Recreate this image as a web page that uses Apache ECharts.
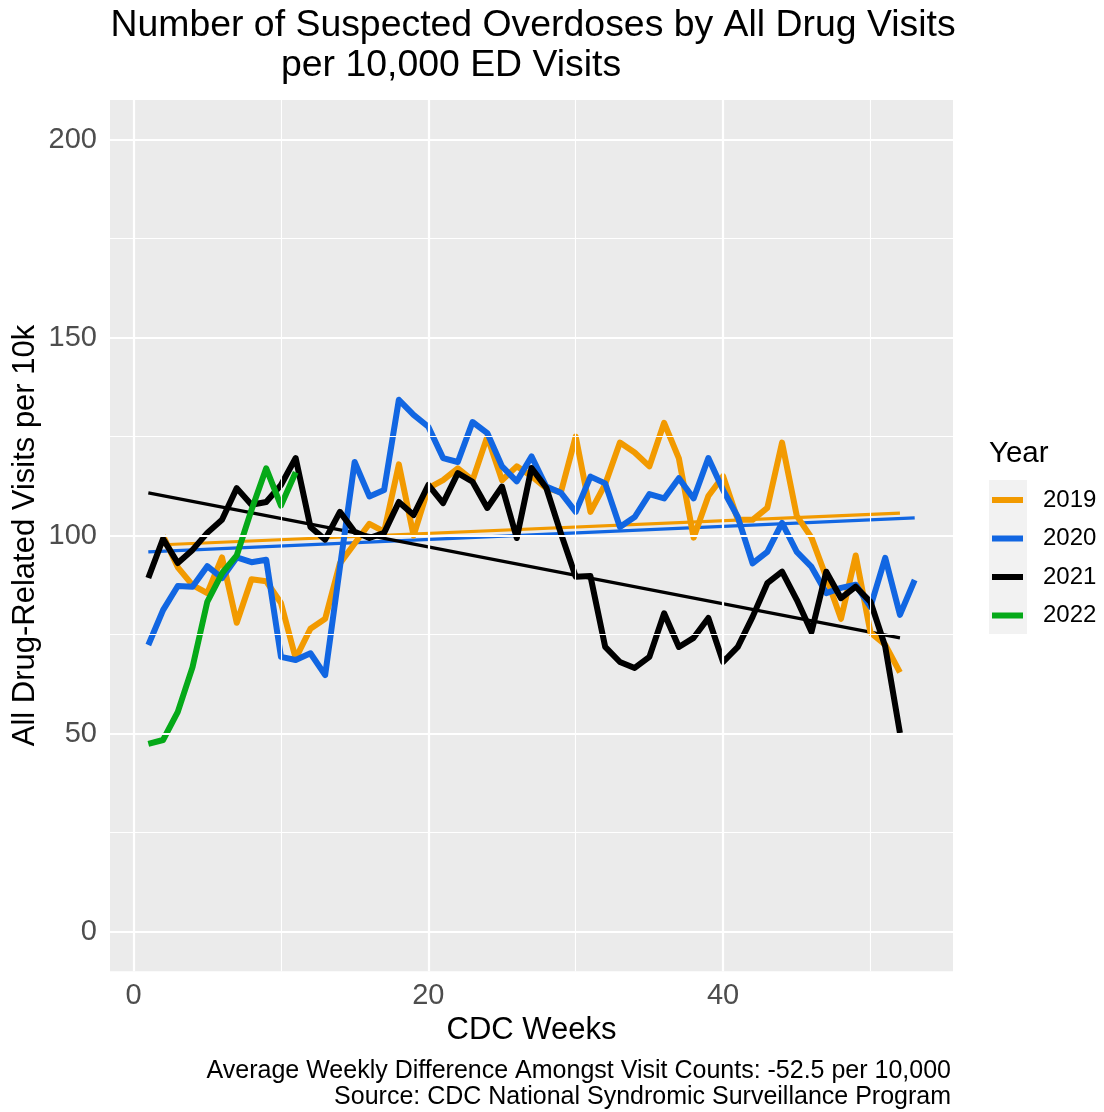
<!DOCTYPE html>
<html>
<head>
<meta charset="utf-8">
<title>Suspected Overdoses per 10,000 ED Visits</title>
<script src="https://cdn.jsdelivr.net/npm/echarts@6/dist/echarts.min.js"></script>
<style>
  html, body { margin: 0; padding: 0; background: #ffffff; }
  #chart { width: 1104px; height: 1112px; }
</style>
</head>
<body>
<div id="chart"></div>
<script>
// Weekly all-drug suspected overdose visits per 10,000 ED visits, by CDC week
const years = ['2019', '2020', '2021', '2022'];
const firstWeek = [2, 1, 1, 1];

const visits2019 = [100, 92, 87.5, 85.5, 94.5, 78, 89, 88.5, 83, 69, 76.5, 79, 93, 98, 103, 101,
  118, 100, 112, 114, 117, 114, 125, 114, 117.5, 115, 112, 111, 125, 106, 113, 123.5, 121, 117.5,
  128.5, 119.5, 99.5, 110, 115, 104, 104, 107, 123.5, 105, 99.5, 89.5, 79, 95, 75.5, 72.5, 65.5];
const visits2020 = [72.4, 81.2, 87.3, 87.1, 92.3, 89.3, 94.5, 93.3, 93.9, 69.4, 68.6, 70.3, 64.8,
  92, 118.6, 109.9, 111.5, 134.3, 130.5, 127.5, 119.6, 118.6, 128.7, 125.9, 117.5, 113.7, 120,
  112.4, 110.8, 106, 114.9, 113.2, 102.2, 104.7, 110.5, 109.4, 114.5, 109.4, 119.6, 111.5, 104.7,
  93, 95.9, 103.2, 95.9, 92.1, 85.5, 86.8, 87.6, 82, 94.4, 80, 88.8];
const visits2021 = [89.3, 99.2, 93.1, 96.4, 100.7, 104, 112, 107.8, 108.5, 112.8, 119.6, 102.2, 99,
  106, 101, 99.4, 100.7, 108.5, 105.2, 112.8, 108.2, 115.8, 113.6, 107, 112.4, 99.4, 117.1, 112.1,
  100.5, 89.6, 89.8, 71.9, 68.1, 66.6, 69.4, 80.4, 71.9, 74.2, 79.2, 68.1, 71.9, 79.5, 88, 90.9,
  83.8, 75.7, 90.9, 84.2, 87.1, 83.3, 72, 50.2];
const visits2022 = [47.4, 48.4, 55.5, 66.8, 83.3, 90.5, 95, 106.5, 117, 107.6, 116];

const visitsByYear = [visits2019, visits2020, visits2021, visits2022];

// Linear trend per year: fitted value at the first and at the last week of that year
const trendYears = ['2019', '2020', '2021'];
const trendStart = [97.7, 95.9, 110.8];
const trendEnd = [105.7, 104.5, 74.2];

const xTicks = [0, 20, 40];
const xMinorTicks = [10, 30, 50];
const yTicks = [0, 50, 100, 150, 200];
const yMinorTicks = [25, 75, 125, 175];

const colors = { '2019': '#F29A00', '2020': '#1166E2', '2021': '#000000', '2022': '#05A918' };

const FONT = '"Liberation Sans", Arial, Helvetica, sans-serif';

function points(yearIdx) {
  return visitsByYear[yearIdx].map((v, i) => [firstWeek[yearIdx] + i, v]);
}

function trendPoints(k) {
  const idx = years.indexOf(trendYears[k]);
  const x0 = firstWeek[idx];
  const x1 = firstWeek[idx] + visitsByYear[idx].length - 1;
  return [[x0, trendStart[k]], [x1, trendEnd[k]]];
}

const series = [];

// Panel grid lines
function gridSeries(name, width, xs, ys) {
  return {
    name: name,
    type: 'line',
    data: [],
    silent: true,
    z: 1,
    markLine: {
      silent: true,
      symbol: 'none',
      animation: false,
      label: { show: false },
      lineStyle: { color: '#ffffff', width: width, type: 'solid' },
      emphasis: { disabled: true },
      data: xs.map(v => ({ xAxis: v })).concat(ys.map(v => ({ yAxis: v })))
    }
  };
}
series.push(gridSeries('gridMinor', 1.1, xMinorTicks, yMinorTicks));
series.push(gridSeries('gridMajor', 2.2, xTicks, yTicks));

// Linear trend lines
trendYears.forEach((y, k) => {
  series.push({
    name: y + ' trend',
    type: 'line',
    data: trendPoints(k),
    showSymbol: false,
    silent: true,
    z: 2,
    color: colors[y],
    lineStyle: { width: 3.2, color: colors[y], cap: 'butt' }
  });
});

// Weekly series
years.forEach((y, idx) => {
  series.push({
    name: y,
    type: 'line',
    data: points(idx),
    showSymbol: false,
    silent: true,
    z: 3,
    color: colors[y],
    lineStyle: { width: 6, color: colors[y], join: 'round', cap: 'butt' }
  });
});

const chart = echarts.init(document.getElementById('chart'), null, { renderer: 'canvas' });

chart.setOption({
  animation: false,
  backgroundColor: '#ffffff',
  textStyle: { fontFamily: FONT },
  grid: {
    left: 110, right: 151, top: 100, bottom: 140.7,
    show: true, backgroundColor: '#EBEBEB', borderWidth: 0,
    containLabel: false
  },
  xAxis: {
    type: 'value',
    min: -1.6, max: 55.6,
    axisLine: { show: false },
    splitLine: { show: false },
    axisTick: {
      show: true, length: 5, customValues: xTicks,
      lineStyle: { color: '#333333', width: 1.5 }
    },
    axisLabel: {
      customValues: xTicks, margin: 10,
      fontSize: 29, color: '#4D4D4D', fontFamily: FONT
    }
  },
  yAxis: {
    type: 'value',
    min: -10, max: 210,
    axisLine: { show: false },
    splitLine: { show: false },
    axisTick: {
      show: true, length: 5, customValues: yTicks,
      lineStyle: { color: '#333333', width: 1.5 }
    },
    axisLabel: {
      customValues: yTicks, margin: 13,
      fontSize: 29, color: '#4D4D4D', fontFamily: FONT
    }
  },
  legend: {
    data: years,
    orient: 'vertical',
    left: 992, top: 485,
    icon: 'rect',
    itemWidth: 31, itemHeight: 6,
    itemGap: 8.5,
    selectedMode: false,
    padding: 0,
    textStyle: {
      fontSize: 24, color: '#000000', fontFamily: FONT,
      lineHeight: 30, padding: [0, 0, 0, 15]
    }
  },
  graphic: [
    {
      type: 'rect', z: 0, silent: true,
      shape: { x: 989, y: 480, width: 38, height: 154 },
      style: { fill: '#F2F2F2' }
    },
    {
      type: 'text', silent: true, x: 989, y: 454,
      style: { text: 'Year', fontSize: 29.5, fontFamily: FONT, fill: '#000000',
        textAlign: 'left', textVerticalAlign: 'middle' }
    },
    {
      type: 'text', silent: true, x: 110.5, y: 26,
      style: { text: 'Number of Suspected Overdoses by All Drug Visits', fontSize: 37.4,
        fontFamily: FONT, fill: '#000000', textAlign: 'left', textVerticalAlign: 'middle' }
    },
    {
      type: 'text', silent: true, x: 281, y: 66,
      style: { text: 'per 10,000 ED Visits', fontSize: 37.4,
        fontFamily: FONT, fill: '#000000', textAlign: 'left', textVerticalAlign: 'middle' }
    },
    {
      type: 'text', silent: true, x: 531.5, y: 1030,
      style: { text: 'CDC Weeks', fontSize: 31, fontFamily: FONT, fill: '#000000',
        textAlign: 'center', textVerticalAlign: 'middle' }
    },
    {
      type: 'text', silent: true, x: 25, y: 535.5, rotation: Math.PI / 2,
      style: { text: 'All Drug-Related Visits per 10k', fontSize: 31, fontFamily: FONT,
        fill: '#000000', textAlign: 'center', textVerticalAlign: 'middle' }
    },
    {
      type: 'text', silent: true, x: 951, y: 1071,
      style: { text: 'Average Weekly Difference Amongst Visit Counts: -52.5 per 10,000',
        fontSize: 25, fontFamily: FONT, fill: '#000000', textAlign: 'right',
        textVerticalAlign: 'middle' }
    },
    {
      type: 'text', silent: true, x: 951, y: 1097,
      style: { text: 'Source: CDC National Syndromic Surveillance Program',
        fontSize: 25, fontFamily: FONT, fill: '#000000', textAlign: 'right',
        textVerticalAlign: 'middle' }
    }
  ],
  series: series
});
</script>
</body>
</html>
